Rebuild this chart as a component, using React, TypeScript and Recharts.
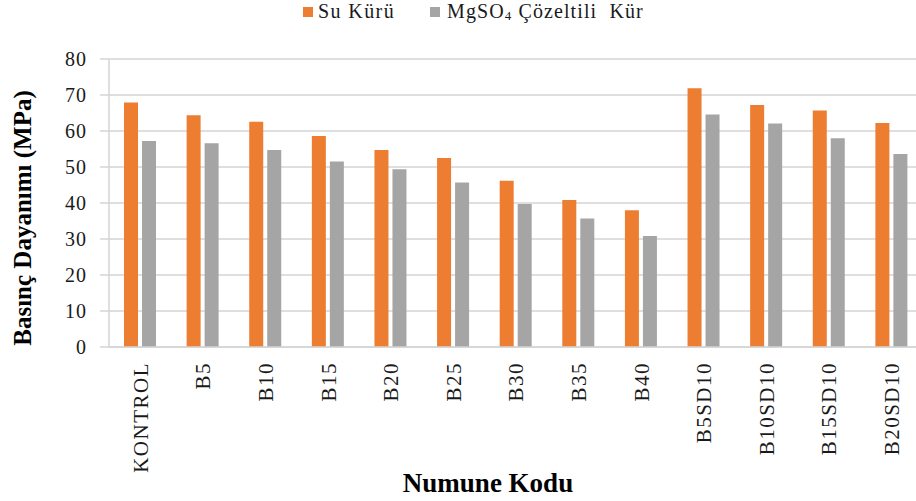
import React from "react";
import { BarChart, Bar, XAxis, YAxis, CartesianGrid, Legend, Label } from "recharts";

const categories = ["KONTROL", "B5", "B10", "B15", "B20", "B25", "B30", "B35", "B40", "B5SD10", "B10SD10", "B15SD10", "B20SD10"];
const suKuru = [67.9, 64.4, 62.6, 58.6, 54.7, 52.5, 46.2, 40.8, 38.0, 71.9, 67.2, 65.7, 62.2];
const mgso4Kur = [57.2, 56.6, 54.7, 51.5, 49.4, 45.7, 39.7, 35.7, 30.8, 64.6, 62.1, 58.0, 53.6];
const yTicks = [0, 10, 20, 30, 40, 50, 60, 70, 80];
const seriesNames = ["Su Kürü", "MgSO₄ Çözeltili  Kür"];
const seriesColors = ["#ED7D31", "#A5A5A5"];

const data = categories.map((c, i) => ({ name: c, su: suKuru[i], mg: mgso4Kur[i] }));

const FONT = '"Liberation Serif", "Times New Roman", Times, serif';

const XTick = (props: any) => {
  const { x, y, payload } = props;
  return (
    <g transform={`translate(${x},${y})`}>
      <text
        transform="rotate(-90)"
        textAnchor="end"
        dy="0.35em"
        fontFamily={FONT}
        fontSize={21}
        letterSpacing={1.5}
        fill="#1a1a1a"
      >
        {payload.value}
      </text>
    </g>
  );
};

const YTick = (props: any) => {
  const { x, y, payload } = props;
  return (
    <text x={x} y={y} dy="0.35em" textAnchor="end" fontFamily={FONT} fontSize={20} letterSpacing={1} fill="#1a1a1a">
      {payload.value}
    </text>
  );
};

const renderName = (name: string) => {
  const idx = name.indexOf("₄");
  if (idx < 0) return name;
  return (
    <>
      {name.slice(0, idx)}
      <span style={{ fontSize: 13, position: "relative", top: 2 }}>4</span>
      {name.slice(idx + 1)}
    </>
  );
};

const LegendContent = () => (
  <div style={{ position: "relative", width: 916, height: 30, fontFamily: FONT, fontSize: 20, color: "#1a1a1a" }}>
    <div style={{ position: "absolute", left: 303, top: 7, width: 10, height: 10, background: seriesColors[0] }} />
    <div style={{ position: "absolute", left: 318, top: 0, whiteSpace: "pre", letterSpacing: 1.4, lineHeight: "normal" }}>
      {renderName(seriesNames[0])}
    </div>
    <div style={{ position: "absolute", left: 430, top: 7, width: 10, height: 10, background: seriesColors[1] }} />
    <div style={{ position: "absolute", left: 447, top: 0, whiteSpace: "pre", letterSpacing: 1.1, lineHeight: "normal" }}>
      {renderName(seriesNames[1])}
    </div>
  </div>
);

export default function App() {
  return (
    <div style={{ position: "absolute", left: 0, top: 0, width: 916, height: 501, overflow: "hidden", background: "#fff" }}>
      <BarChart
        width={924}
        height={501}
        data={data}
        margin={{ top: 59, right: 1, left: 0, bottom: 0 }}
        barSize={14}
        barGap={4}
      >
        <CartesianGrid vertical={false} stroke="#d4d4d4" strokeWidth={1.5} />
        <XAxis
          dataKey="name"
          interval={0}
          height={154}
          axisLine={{ stroke: "#d4d4d4", strokeWidth: 1.5 }}
          tickLine={false}
          tickSize={0}
          tickMargin={15}
          tick={<XTick />}
        >
          <Label
            content={() => (
              <text x={488} y={492} textAnchor="middle" fontFamily={FONT} fontWeight="bold" fontSize={27} fill="#000">
                Numune Kodu
              </text>
            )}
          />
        </XAxis>
        <YAxis
          width={109}
          domain={[0, 80]}
          ticks={yTicks}
          interval={0}
          axisLine={{ stroke: "#d4d4d4", strokeWidth: 1.5 }}
          tickLine={{ stroke: "#d4d4d4", strokeWidth: 1.5 }}
          tickSize={9}
          tickMargin={13}
          tick={<YTick />}
        >
          <Label
            content={() => (
              <text
                x={22}
                y={218}
                transform="rotate(-90 22 218)"
                textAnchor="middle"
                dy="0.35em"
                fontFamily={FONT}
                fontWeight="bold"
                fontSize={25}
                fill="#000"
              >
                Basınç Dayanımı (MPa)
              </text>
            )}
          />
        </YAxis>
        <Legend verticalAlign="middle" align="center" wrapperStyle={{ top: 0, left: 0, width: 916, height: 30 }} content={<LegendContent />} />
        <Bar dataKey="su" name={seriesNames[0]} fill={seriesColors[0]} isAnimationActive={false} />
        <Bar dataKey="mg" name={seriesNames[1]} fill={seriesColors[1]} isAnimationActive={false} />
      </BarChart>
    </div>
  );
}
